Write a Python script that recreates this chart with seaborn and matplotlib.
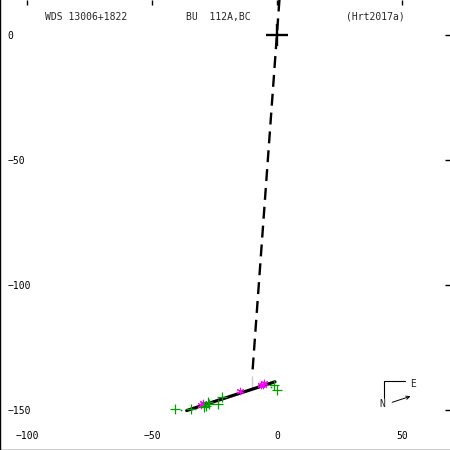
import numpy as np
import pandas as pd
import matplotlib
matplotlib.use("Agg")
from matplotlib import pyplot as plt
import seaborn as sns

# posicoes observadas (verde) e medidas interferometricas (magenta)
obs_x = [-40.9, -34.2, -29.3, -28.3, -27.3, -27.5, -23.5, -21.9, -1.3, 0.1]
obs_y = [-149.7, -149.7, -149.1, -148.7, -147.7, -146.9, -147.7, -145.1, -140.0, -142.0]
spk_x = [-30.2, -29.7, -14.6, -6.3, -5.0, -5.5]
spk_y = [-148.0, -147.3, -142.7, -140.1, -139.3, -140.0]
res_x = [-38.4, -2.4]          # pontinhos verdes (O-C)
res_y = [-150.3, -140.9]
orb_x = [-36.1, -0.8]          # orbita (vista de perfil)
orb_y = [-150.4, -138.9]
node_x = [1.0, -9.9]           # linha dos nodos
node_y = [14.0, -136.4]
peri_x = [-10.1, -10.1]
peri_y = [-136.4, -141.9]
red_x = [-7.5, -7.5]
red_y = [-138.8, -140.9]
ticks_x = [-100, -50, 0, 50]
ticks_y = [0, -50, -100, -150]

sns.set_style("white")
plt.rcParams['font.family'] = ['DejaVu Sans Mono']
plt.rcParams['lines.scale_dashes'] = False

fig = plt.figure(figsize=(4.5, 4.5), dpi=100)
ax = fig.add_axes([0.001, 0.001, 1.0, 1.0])

df_obs = pd.DataFrame({'x': obs_x, 'y': obs_y})
df_spk = pd.DataFrame({'x': spk_x, 'y': spk_y})

# linha dos nodos tracejada
sns.lineplot(x=node_x, y=node_y, sort=False, color='black', lw=1.7,
             ax=ax).lines[-1].set_dashes((8.6, 5.0))
sns.lineplot(x=orb_x, y=orb_y, sort=False, color='black', lw=2.3, ax=ax)
sns.lineplot(x=peri_x, y=peri_y, sort=False, color='black', lw=1.4, ax=ax)
sns.lineplot(x=red_x, y=red_y, sort=False, color='red', lw=1.0, ax=ax)

sns.scatterplot(data=df_spk, x='x', y='y', marker=(6, 2, 0), s=22,
                color='#ff00ff', linewidth=0.8, ax=ax, zorder=4)
sns.scatterplot(data=df_obs, x='x', y='y', marker='+', s=45,
                color='#00a000', linewidth=0.9, ax=ax, zorder=5)
ax.plot(res_x, res_y, ls='none', marker='s', ms=1.2, color='#00a000', mew=0)

# estrela principal
ax.plot([0], [0], marker='+', ms=16, mew=1.7, color='black', ls='none')

ax.set_xlim(-110.6, 69.4)
ax.set_ylim(-166, 14)
ax.set_xticks(ticks_x)
ax.set_yticks(ticks_y)
ax.set_xticklabels([str(t).replace('-', '\u2212') for t in ticks_x])
ax.set_yticklabels([str(t).replace('-', '\u2212') for t in ticks_y])
ax.tick_params(axis='both', direction='in', length=3.5, width=1.0,
               labelsize=7, colors='black', top=True, right=True)
ax.tick_params(axis='x', pad=-13.5)
ax.tick_params(axis='y', pad=-5)
for lb in ax.get_yticklabels():
    lb.set_ha('left')
ax.set_xlabel('')
ax.set_ylabel('')
for s in ['top', 'right']:
    ax.spines[s].set_visible(False)
for s in ['left', 'bottom']:
    ax.spines[s].set_color('black')
    ax.spines[s].set_linewidth(1.0)

ax.text(0.1, 0.962, 'WDS 13006+1822', transform=ax.transAxes, fontsize=7, va='center')
ax.text(0.413, 0.962, 'BU  112A,BC', transform=ax.transAxes, fontsize=7, va='center')
ax.text(0.767, 0.962, '(Hrt2017a)', transform=ax.transAxes, fontsize=7, va='center')

# rosa dos ventos e sentido do movimento
ax.plot([42.7, 42.7, 51.4], [-145.2, -138.4, -138.4], color='black', lw=0.8)
ax.text(54.4, -139.6, 'E', fontsize=7, ha='center', va='center')
ax.text(42.1, -147.6, 'N', fontsize=7, ha='center', va='center')
ax.annotate('', xy=(53.4, -144.7), xytext=(46.1, -147.1),
            arrowprops=dict(arrowstyle='->', lw=0.7, color='black',
                            shrinkA=0, shrinkB=0, mutation_scale=6))

plt.savefig('out.png', dpi=100)
